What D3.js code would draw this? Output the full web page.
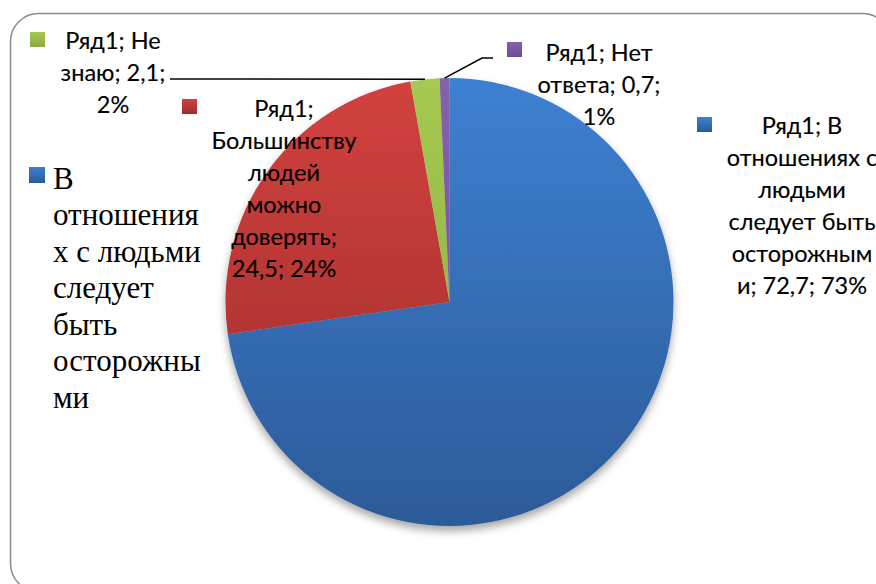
<!DOCTYPE html>
<html>
<head>
<meta charset="utf-8">
<style>
  html, body { margin: 0; padding: 0; background: #fff; }
  svg { display: block; }
  .lbl { font-family: Lato, "Noto Sans", sans-serif; fill: #000; }
  .leg { font-family: "Liberation Serif", "DejaVu Serif", serif; fill: #000; }
</style>
</head>
<body>
<svg id="chart"></svg>
<script src="https://cdnjs.cloudflare.com/ajax/libs/d3/7.8.5/d3.min.js"></script>
<script>
// data
const seriesName = "Ряд1";
const categories = ["В отношениях с людьми следует быть осторожными", "Большинству людей можно доверять", "Не знаю", "Нет ответа"];
const values = [72.7, 24.5, 2.1, 0.7];
const percentLabels = ["73%", "24%", "2%", "1%"];
// how the labels wrap in the picture
const labelLines = [
  ["Ряд1; В", "отношениях с", "людьми", "следует быть", "осторожным", "и; 72,7; 73%"],
  ["Ряд1;", "Большинству", "людей", "можно", "доверять;", "24,5; 24%"],
  ["Ряд1; Не", "знаю; 2,1;", "2%"],
  ["Ряд1; Нет", "ответа; 0,7;", "1%"]
];
const legendLines = ["В", "отношения", "х с людьми", "следует", "быть", "осторожны", "ми"];

const colors = [
  ["#3e80d2", "#2c5b98"],
  ["#d2413e", "#9c2d2b"],
  ["#a5c951", "#8aaa42"],
  ["#8660ad", "#6e4c93"]
];

const width = 876, height = 584;
const cx = 449.5, cy = 302, radius = 224;
const lineH = 32;

// label placement (centre x, first line y, marker x, marker y)
const labelPos = [
  { x: 802, y: 125, mx: 697, my: 117 },
  { x: 284, y: 108, mx: 182, my: 99 },
  { x: 113, y: 40, mx: 30, my: 32 },
  { x: 599, y: 52, mx: 507, my: 42 }
];

const svg = d3.select("#chart").attr("width", width).attr("height", height);
const defs = svg.append("defs");

colors.forEach((c, i) => {
  const g = defs.append("linearGradient").attr("id", "grad" + i)
    .attr("x1", 0).attr("y1", 0).attr("x2", 0).attr("y2", 1);
  g.append("stop").attr("offset", "0%").attr("stop-color", c[0]);
  g.append("stop").attr("offset", "100%").attr("stop-color", c[1]);
  const gp = defs.append("linearGradient").attr("id", "pgrad" + i)
    .attr("gradientUnits", "userSpaceOnUse")
    .attr("x1", 0).attr("y1", -radius).attr("x2", 0).attr("y2", radius);
  gp.append("stop").attr("offset", "0%").attr("stop-color", c[0]);
  gp.append("stop").attr("offset", "100%").attr("stop-color", c[1]);
});

const shadow = defs.append("filter").attr("id", "shadow")
  .attr("x", "-20%").attr("y", "-20%").attr("width", "140%").attr("height", "140%");
shadow.append("feDropShadow").attr("dx", 0).attr("dy", 5).attr("stdDeviation", 4)
  .attr("flood-color", "#000").attr("flood-opacity", 0.35);

// frame
svg.append("rect")
  .attr("x", 10.5).attr("y", 13.5).attr("width", 880).attr("height", 578)
  .attr("rx", 28).attr("ry", 28)
  .attr("fill", "#fff").attr("stroke", "#8a8a8a").attr("stroke-width", 1.5);

const pie = d3.pie().sort(null).value(d => d)(values);
const arc = d3.arc().innerRadius(0).outerRadius(radius);

const pieG = svg.append("g").attr("transform", `translate(${cx},${cy})`)
  .attr("filter", "url(#shadow)");
pieG.selectAll("path").data(pie).enter().append("path")
  .attr("d", arc)
  .attr("fill", (d, i) => `url(#pgrad${i})`);

function edgePoint(d) {
  const a = (d.startAngle + d.endAngle) / 2;
  return [cx + Math.sin(a) * radius, cy - Math.cos(a) * radius];
}

// leader lines for the two small slices
const pg = edgePoint(pie[2]);
svg.append("path")
  .attr("d", d3.line()([[170, 79], pg]))
  .attr("fill", "none").attr("stroke", "#000").attr("stroke-width", 1.5);
const pp = edgePoint(pie[3]);
svg.append("path")
  .attr("d", d3.line()([[493, 58], [482, 58], pp]))
  .attr("fill", "none").attr("stroke", "#000").attr("stroke-width", 1.5);

// data labels
labelLines.forEach((lines, i) => {
  const p = labelPos[i];
  svg.append("rect")
    .attr("x", p.mx).attr("y", p.my).attr("width", 15).attr("height", 15)
    .attr("fill", `url(#grad${i})`);
  const t = svg.append("text").attr("class", "lbl")
    .attr("text-anchor", "middle").attr("font-size", 23.5)
    .attr("stroke", "#000").attr("stroke-width", 0.15);
  lines.forEach((s, j) => {
    t.append("tspan").attr("x", p.x).attr("y", p.y + j * lineH)
      .attr("dominant-baseline", "central").text(s);
  });
});

// legend
svg.append("rect").attr("x", 29).attr("y", 167).attr("width", 16).attr("height", 16)
  .attr("fill", "url(#grad0)");
const lt = svg.append("text").attr("class", "leg").attr("font-size", 31);
legendLines.forEach((s, j) => {
  lt.append("tspan").attr("x", 53).attr("y", 178 + j * 36.5)
    .attr("dominant-baseline", "central").text(s);
});
</script>
</body>
</html>
